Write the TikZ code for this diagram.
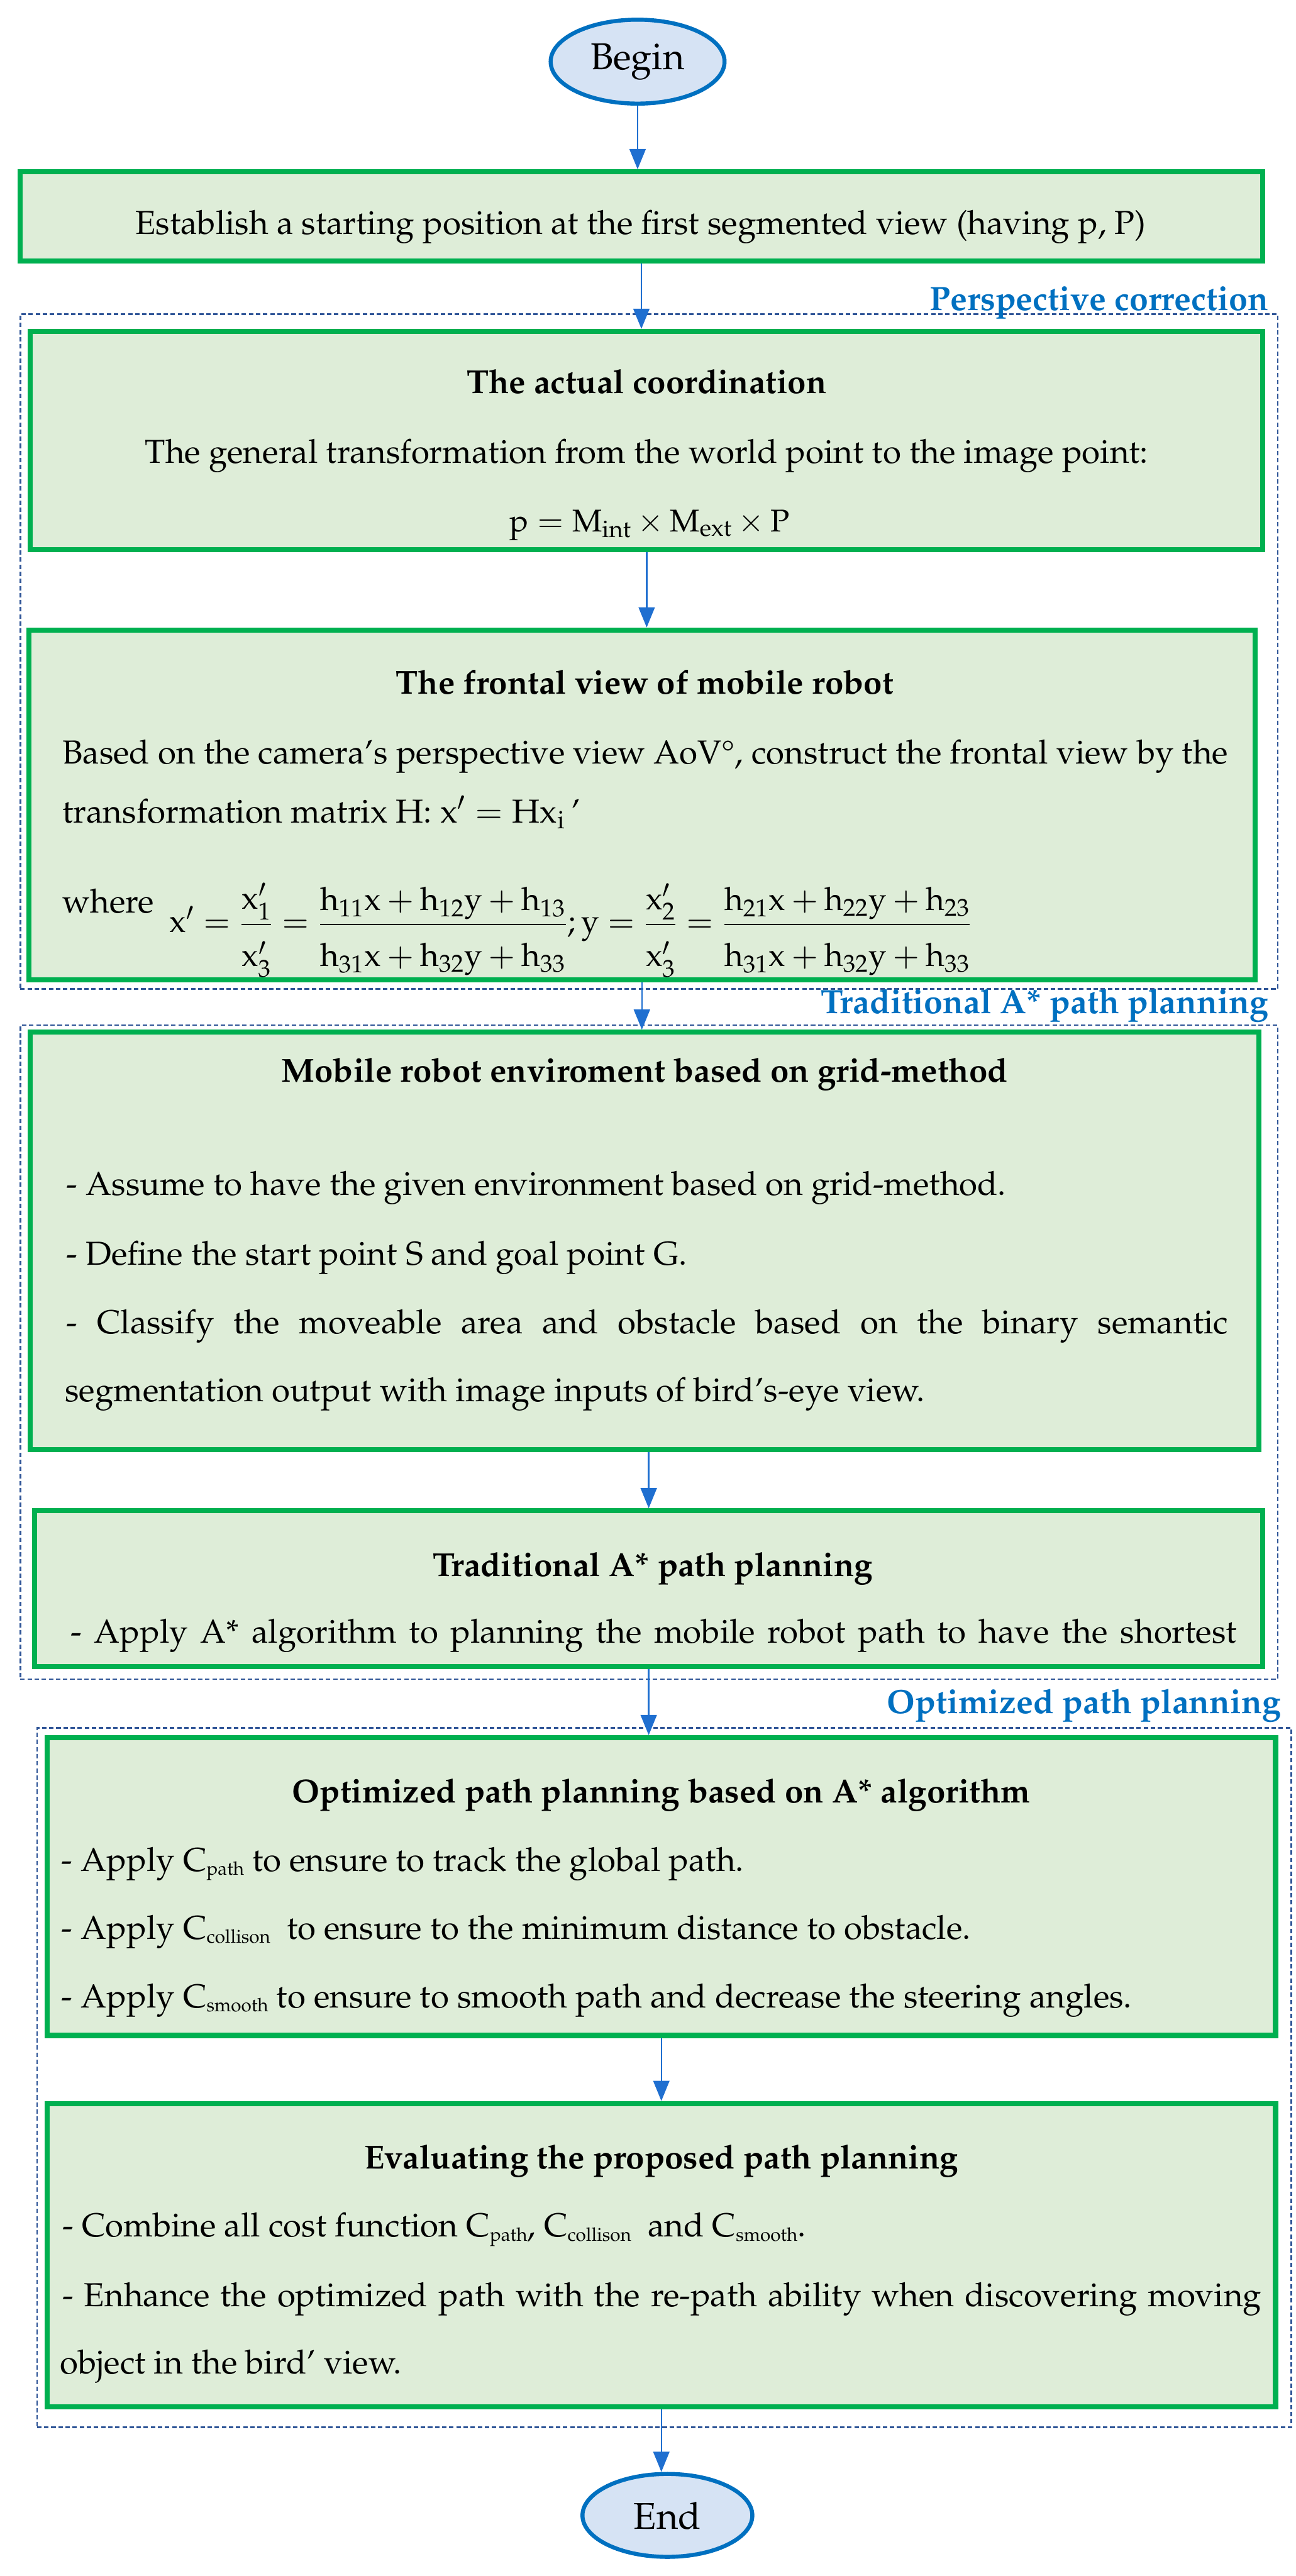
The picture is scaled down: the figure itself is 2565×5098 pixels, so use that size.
\documentclass[tikz,border=0pt]{standalone}
\usepackage[T1]{fontenc}
\usepackage{textcomp}
\usepackage{mathpazo}
\usepackage{graphicx}
\usetikzlibrary{arrows.meta,shapes.geometric,calc}
\definecolor{boxgreen}{HTML}{00B050}
\definecolor{boxfill}{HTML}{DEEDD8}
\definecolor{ovalblue}{HTML}{0070C0}
\definecolor{ovalfill}{HTML}{D6E3F4}
\definecolor{arrowblue}{HTML}{1F6FD0}
\definecolor{frameblue}{HTML}{2F5597}
\definecolor{labelblue}{HTML}{0070C0}
\newcommand\bodyfont{\fontsize{18.7}{22}\selectfont}
\newcommand\labelfont{\fontsize{19}{22}\selectfont}
\newcommand\ovalfont{\fontsize{21}{25}\selectfont}
\newcommand\csub[1]{\raisebox{-0.25ex}{\fontsize{10.5}{11}\selectfont #1}}
\newcommand\dstrut{\rule{0pt}{2.5ex}}
\begin{document}
\begin{tikzpicture}[x=0.01cm,y=-0.01cm,
  box/.style={draw=boxgreen,fill=boxfill,line width=0.1cm,rectangle,inner sep=0pt},
  oval/.style={draw=ovalblue,fill=ovalfill,line width=0.08cm,ellipse,inner sep=0pt,font=\ovalfont},
  grp/.style={draw=frameblue,line width=0.03cm,dash pattern=on 2.5pt off 1.5pt,rectangle,inner sep=0pt},
  grplabel/.style={inner sep=0pt,font=\labelfont\bfseries,text=labelblue,anchor=base east},
  arr/.style={draw=arrowblue,line width=0.03cm,-{Triangle[width=0.32cm,length=0.4cm]}},
  txt/.style={inner sep=0pt,font=\bodyfont},
  ttl/.style={inner sep=0pt,font=\bodyfont\bfseries,anchor=base},
  line/.style={inner sep=0pt,font=\bodyfont,anchor=base west}]
\useasboundingbox (0,0) rectangle (2565,5098);

% group frames
\node[grp,minimum width=24.87cm,minimum height=13.35cm] (f1) at (1284.5,1289.5) {};
\node[grp,minimum width=24.87cm,minimum height=12.94cm] (f2) at (1284.5,2676) {};
\node[grp,minimum width=24.81cm,minimum height=13.83cm] (f3) at (1314.5,4111.5) {};
\node[grplabel] (l1) at (2511,614) {Perspective correction};
\node[grplabel] (l2) at (2511,2006) {Traditional A* path planning};
\node[grplabel] (l3) at (2536,3391) {Optimized path planning};

% terminals
\node[oval,minimum width=3.44cm,minimum height=1.66cm] (begin) at (1262,122) {Begin};
\node[oval,minimum width=3.36cm,minimum height=1.64cm] (end) at (1321,4978) {End};

% boxes
\node[box,minimum width=24.59cm,minimum height=1.76cm] (b1) at (1269.5,428) {};
\node[box,minimum width=24.38cm,minimum height=4.32cm] (b2) at (1280,872) {};
\node[box,minimum width=24.25cm,minimum height=6.92cm] (b3) at (1270.5,1593) {};
\node[box,minimum width=24.30cm,minimum height=8.26cm] (b4) at (1276,2456) {};
\node[box,minimum width=24.30cm,minimum height=3.08cm] (b5) at (1284,3144) {};
\node[box,minimum width=24.30cm,minimum height=5.89cm] (b6) at (1309,3733.5) {};
\node[box,minimum width=24.30cm,minimum height=6.00cm] (b7) at (1309,4463) {};

% box 1
\node[txt,anchor=base] (t1) at (1268,463) {Establish a starting position at the first segmented view (having p, P)};

% box 2
\node[ttl] (t2a) at (1280,779) {The actual coordination};
\node[txt,anchor=base] (t2b) at (1280,917) {The general transformation from the world point to the image point:};
\node[txt,anchor=base] (t2c) at (1286,1052) {\resizebox{5.54cm}{!}{$\mathrm{p}=\mathrm{M}_{\mathrm{int}}\times\mathrm{M}_{\mathrm{ext}}\times\mathrm{P}$}};

% box 3
\node[ttl] (t3a) at (1276,1374) {The frontal view of mobile robot};
\node[line] (t3b) at (123,1511) {\makebox[23.06cm][s]{Based on the camera's perspective view AoV\textdegree, construct the frontal view by the}};
\node[line] (t3c) at (123,1628) {transformation matrix H: $\mathrm{x}'=\mathrm{Hx}_{\mathrm{i}}$\,'};
\node[line] (t3d) at (123,1807) {\makebox[2.12cm][l]{where}\raisebox{-0.38cm}{\resizebox{15.87cm}{!}{$\mathrm{x}'=\displaystyle\frac{\mathrm{x}_1'}{\dstrut\mathrm{x}_3'}=\frac{\mathrm{h}_{11}\mathrm{x}+\mathrm{h}_{12}\mathrm{y}+\mathrm{h}_{13}}{\dstrut\mathrm{h}_{31}\mathrm{x}+\mathrm{h}_{32}\mathrm{y}+\mathrm{h}_{33}};\mathrm{y}=\frac{\mathrm{x}_2'}{\dstrut\mathrm{x}_3'}=\frac{\mathrm{h}_{21}\mathrm{x}+\mathrm{h}_{22}\mathrm{y}+\mathrm{h}_{23}}{\dstrut\mathrm{h}_{31}\mathrm{x}+\mathrm{h}_{32}\mathrm{y}+\mathrm{h}_{33}}$}}};

% box 4
\node[ttl] (t4a) at (1276,2141) {Mobile robot enviroment based on grid-method};
\node[line] (t4b) at (131,2366) {- Assume to have the given environment based on grid-method.};
\node[line] (t4c) at (131,2504) {- Define the start point S and goal point G.};
\node[line] (t4d) at (131,2639) {\makebox[22.98cm][s]{- Classify the moveable area and obstacle based on the binary semantic}};
\node[line] (t4e) at (128,2774) {segmentation output with image inputs of bird's-eye view.};

% box 5
\node[ttl] (t5a) at (1292,3119) {Traditional A* path planning};
\node[line] (t5b) at (139,3251) {\makebox[23.07cm][s]{- Apply A* algorithm to planning the mobile robot path to have the shortest}};

% box 6
\node[ttl] (t6a) at (1309,3568) {Optimized path planning based on A* algorithm};
\node[line] (t6b) at (121,3703) {- Apply C\csub{path} to ensure to track the global path.};
\node[line] (t6c) at (121,3838) {- Apply C\csub{collison}\ \ to ensure to the minimum distance to obstacle.};
\node[line] (t6d) at (121,3973) {- Apply C\csub{smooth} to ensure to smooth path and decrease the steering angles.};

% box 7
\node[ttl] (t7a) at (1309,4292) {Evaluating the proposed path planning};
\node[line] (t7b) at (123,4427) {- Combine all cost function C\csub{path}, C\csub{collison}\ \ and C\csub{smooth}.};
\node[line] (t7c) at (123,4565) {\makebox[23.72cm][s]{- Enhance the optimized path with the re-path ability when discovering moving}};
\node[line] (t7d) at (118,4698) {object in the bird' view.};

% connectors
\draw[arr] (begin) -- (begin |- b1.north);
\draw[arr] (b1.south) -- (b1.south |- b2.north);
\draw[arr] (b2.south) -- (b2.south |- b3.north);
\draw[arr] (b3.south) -- (b3.south |- b4.north);
\draw[arr] (b4.south -| b5.north) -- (b5.north);
\draw[arr] (b5.south) -- (b5.south |- b6.north);
\draw[arr] (b6.south) -- (b6.south |- b7.north);
\draw[arr] (b7.south) -- (b7.south |- end.north);
\end{tikzpicture}
\end{document}
